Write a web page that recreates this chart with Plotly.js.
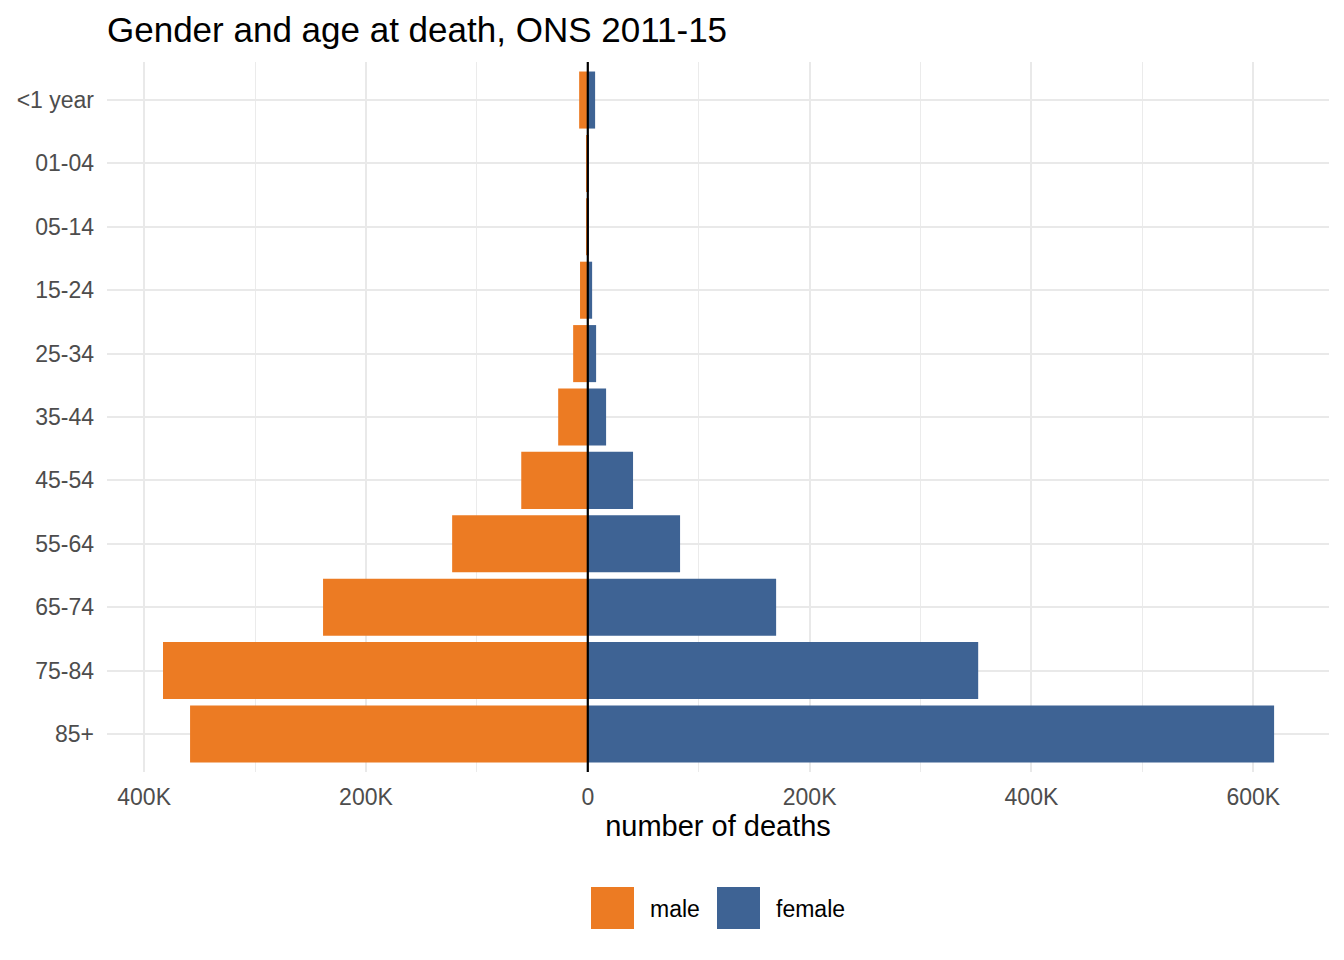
<!DOCTYPE html>
<html>
<head>
<meta charset="utf-8">
<script src="https://cdn.plot.ly/plotly-3.0.1.min.js"></script>
<style>
  html, body { margin: 0; padding: 0; background: #fff; }
  #chart { width: 1344px; height: 960px; }
</style>
</head>
<body>
<div id="chart"></div>
<script>
// deaths by age band, ONS 2011-15
var ageGroups = ['<1 year', '01-04', '05-14', '15-24', '25-34', '35-44',
                 '45-54', '55-64', '65-74', '75-84', '85+'];
var maleDeaths = [7800, 900, 1600, 7000, 13200, 26700,
                  60000, 122300, 238700, 383000, 358600];
var femaleDeaths = [6600, 700, 1100, 3900, 7500, 16500,
                    40800, 83200, 169800, 352000, 618800];
var tickVals = [-400000, -200000, 0, 200000, 400000, 600000];
var tickText = ['400K', '200K', '0', '200K', '400K', '600K'];
var seriesNames = ['male', 'female'];
var seriesColors = ['#EC7B23', '#3E6394'];

var W = 1344, H = 960;
var M = { l: 107, r: 15, t: 62, b: 188 };
var FONT = 'Liberation Sans, Arial, Helvetica, sans-serif';

// pixel -> paper helpers (used for the hand-drawn legend only)
function px(x) { return (x - M.l) / (W - M.l - M.r); }
function py(y) { return (H - M.b - y) / (H - M.t - M.b); }

var male = {
    type: 'bar',
    orientation: 'h',
    name: seriesNames[0],
    y: ageGroups,
    x: maleDeaths.map(function (v) { return -v; }),
    customdata: maleDeaths,
    hovertemplate: '%{y}: %{customdata:,}<extra>male</extra>',
    marker: { color: seriesColors[0], line: { width: 0 } },
    width: 0.9,
    showlegend: false
};

var female = {
    type: 'bar',
    orientation: 'h',
    name: seriesNames[1],
    y: ageGroups,
    x: femaleDeaths,
    hovertemplate: '%{y}: %{x:,}<extra>female</extra>',
    marker: { color: seriesColors[1], line: { width: 0 } },
    width: 0.9,
    showlegend: false
};

// legend drawn by hand so the keys get ggplot's big squares
var legendShapes = [];
var legendNotes = [];
var keyLeft = [591, 717];
var labelLeft = [650, 776];
for (var i = 0; i < seriesNames.length; i++) {
    legendShapes.push({
        type: 'rect', xref: 'paper', yref: 'paper',
        x0: px(keyLeft[i]), x1: px(keyLeft[i] + 43),
        y0: py(887), y1: py(929),
        fillcolor: seriesColors[i], line: { width: 0 }
    });
    legendNotes.push({
        xref: 'paper', yref: 'paper',
        x: px(labelLeft[i] - 2), y: py(909),
        xanchor: 'left', yanchor: 'middle',
        text: seriesNames[i], showarrow: false,
        font: { family: FONT, size: 23, color: '#000' }
    });
}

var layout = {
    width: W,
    height: H,
    margin: M,
    paper_bgcolor: '#fff',
    plot_bgcolor: '#fff',
    barmode: 'relative',
    bargap: 0.1,
    font: { family: FONT, color: '#000' },
    title: {
        text: 'Gender and age at death, ONS 2011-15',
        font: { family: FONT, size: 35, color: '#000' },
        xref: 'paper', x: 0, xanchor: 'left',
        yref: 'container', y: 1 - 42 / H, yanchor: 'bottom'
    },
    xaxis: {
        range: [-433500, 668300],
        tickvals: tickVals,
        ticktext: tickText,
        ticks: '',
        ticklabelstandoff: 9,
        tickfont: { family: FONT, size: 23, color: '#4D4D4D' },
        showgrid: true,
        gridcolor: '#E9E9E9',
        gridwidth: 2,
        minor: { dtick: 100000, tick0: 0, showgrid: true, gridcolor: '#EBEBEB', gridwidth: 1, ticks: '' },
        zeroline: false,
        showline: false,
        title: {
            text: 'number of deaths',
            font: { family: FONT, size: 29, color: '#000' },
            standoff: 6
        },
        fixedrange: true
    },
    yaxis: {
        type: 'category',
        categoryorder: 'array',
        categoryarray: ageGroups,
        range: [10.6, -0.6],
        ticks: '',
        ticklabelstandoff: 12,
        tickfont: { family: FONT, size: 23, color: '#4D4D4D' },
        showgrid: true,
        gridcolor: '#E9E9E9',
        gridwidth: 2,
        zeroline: false,
        showline: false,
        fixedrange: true
    },
    shapes: [{
        type: 'line', xref: 'x', yref: 'paper',
        x0: 0, x1: 0, y0: 0, y1: 1,
        line: { color: '#000', width: 2.2 },
        layer: 'above'
    }].concat(legendShapes),
    annotations: legendNotes
};

Plotly.newPlot('chart', [male, female], layout, { displayModeBar: false });
</script>
</body>
</html>
